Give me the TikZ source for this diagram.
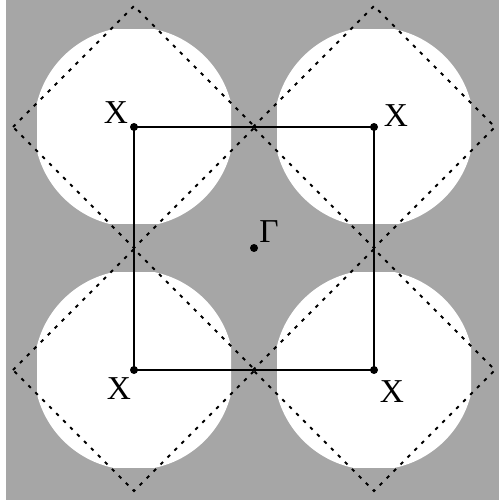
\documentclass[tikz,border=0pt]{standalone}
\usepackage{fontspec}
\setmainfont{Liberation Serif}

\begin{document}
\begin{tikzpicture}[x=0.02cm, y=-0.02cm,
    pt/.style={circle, fill=black, inner sep=0pt, minimum size=0.16cm},
    lbl/.style={font=\fontsize{19}{21}\selectfont},
    zone/.style={fill=white},
    bz/.style={draw=black, dash pattern=on 2pt off 3.6pt, line width=1.1pt},
    edge/.style={line width=1.1pt}]

  \useasboundingbox (0,0) rectangle (499,502);
  \fill[black!35] (6,0) rectangle (499,500);

  % corner points
  \coordinate (X1) at (134,127);
  \coordinate (X2) at (374,127);
  \coordinate (X3) at (134,370);
  \coordinate (X4) at (374,370);
  \coordinate (G) at (254,248);

  % white regions, circles cut by squares
  \foreach \c in {X1,X2,X3,X4}
  {
    \begin{scope}
      \clip (\c) ++(-97,-97) rectangle ++(194,194);
      \fill[zone] (\c) circle [radius=2cm];
    \end{scope}
  }

  % dashed zones
  \foreach \c in {X1,X2,X3,X4}
    \draw[bz] (\c) ++(-121,0) -- ++(121,-121) -- ++(121,121) -- ++(-121,121) -- cycle;

  \draw[edge] (X1) -- (X2) -- (X4) -- (X3) -- cycle;

  \foreach \c/\dx/\dy in {X1/-18/-14, X2/22/-11, X3/-15/19, X4/18/22}
  {
    \node[pt] (d\c) at (\c) {};
    \node[lbl] (l\c) at ([shift={(\dx,\dy)}]\c) {X};
  }
  \node[pt] (dG) at (G) {};
  \node[lbl] (lG) at ([shift={(15,-16)}]G) {Γ};
\end{tikzpicture}
\end{document}
